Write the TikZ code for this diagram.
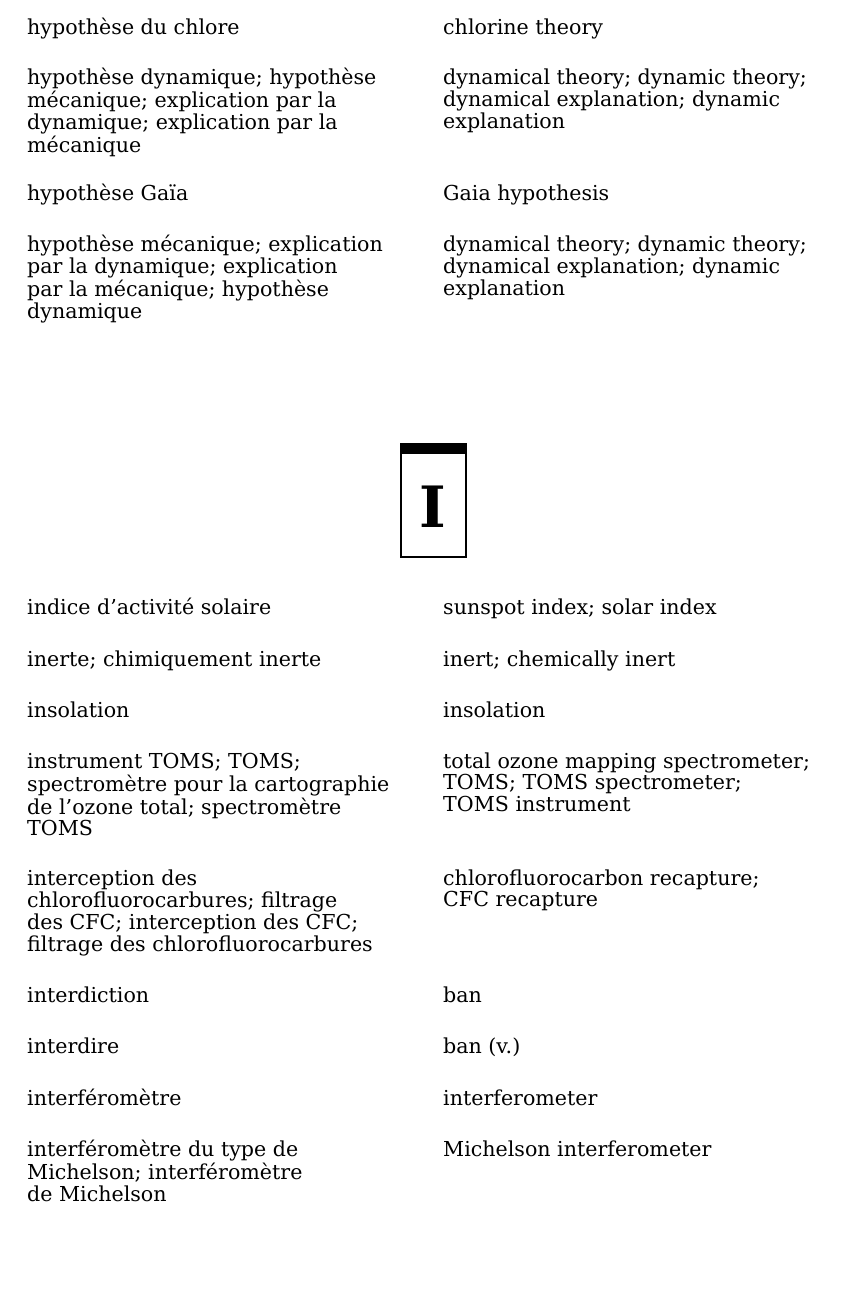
\documentclass[tikz,border=0pt]{standalone}
\usepackage{fontspec}
\setmainfont{DejaVu Serif}
\begin{document}
\begin{tikzpicture}[x=1pt,y=-1pt,
  entry/.style={anchor=base west,inner sep=0pt,font=\fontsize{20.6}{21.8}\selectfont},
  framebox/.style={draw=black,line width=2.6pt},
  letterI/.style={inner sep=0pt,font=\fontsize{57}{60}\selectfont\bfseries}]
\useasboundingbox[fill=white] (0,0) rectangle (853,1302);
\newcommand{\ent}[1]{\begin{tabular}[t]{@{}l@{}}#1\end{tabular}}
% left column
\node[entry] (l1) at (27,34) {hypothèse du chlore};
\node[entry] (l2) at (27,84) {\ent{hypothèse dynamique; hypothèse\\mécanique; explication par la\\dynamique; explication par la\\mécanique}};
\node[entry] (l3) at (27,200) {hypothèse Gaïa};
\node[entry] (l4) at (27,251) {\ent{hypothèse mécanique; explication\\par la dynamique; explication\\par la mécanique; hypothèse\\dynamique}};
% right column
\node[entry] (r1) at (443,34) {chlorine theory};
\node[entry] (r2) at (443,84) {\ent{dynamical theory; dynamic theory;\\dynamical explanation; dynamic\\explanation}};
\node[entry] (r3) at (443,200) {Gaia hypothesis};
\node[entry] (r4) at (443,251) {\ent{dynamical theory; dynamic theory;\\dynamical explanation; dynamic\\explanation}};
% letter box
\draw[framebox] (401,444) rectangle (466,557);
\fill[black] (399.7,442.7) rectangle (467.3,454);
\node[letterI] (I) at (432.5,507) {I};
% left column, section I
\node[entry] (l5) at (27,614) {indice d’activité solaire};
\node[entry] (l6) at (27,666) {inerte; chimiquement inerte};
\node[entry] (l7) at (27,717) {insolation};
\node[entry] (l8) at (27,768) {\ent{instrument TOMS; TOMS;\\spectromètre pour la cartographie\\de l’ozone total; spectromètre\\TOMS}};
\node[entry] (l9) at (27,885) {\ent{interception des\\chlorofluorocarbures; filtrage\\des CFC; interception des CFC;\\filtrage des chlorofluorocarbures}};
\node[entry] (l10) at (27,1002) {interdiction};
\node[entry] (l11) at (27,1053) {interdire};
\node[entry] (l12) at (27,1105) {interféromètre};
\node[entry] (l13) at (27,1156) {\ent{interféromètre du type de\\Michelson; interféromètre\\de Michelson}};
% right column, section I
\node[entry] (r5) at (443,614) {sunspot index; solar index};
\node[entry] (r6) at (443,666) {inert; chemically inert};
\node[entry] (r7) at (443,717) {insolation};
\node[entry] (r8) at (443,768) {\ent{total ozone mapping spectrometer;\\TOMS; TOMS spectrometer;\\TOMS instrument}};
\node[entry] (r9) at (443,885) {\ent{chlorofluorocarbon recapture;\\CFC recapture}};
\node[entry] (r10) at (443,1002) {ban};
\node[entry] (r11) at (443,1053) {ban (v.)};
\node[entry] (r12) at (443,1105) {interferometer};
\node[entry] (r13) at (443,1156) {Michelson interferometer};
\end{tikzpicture}
\end{document}
